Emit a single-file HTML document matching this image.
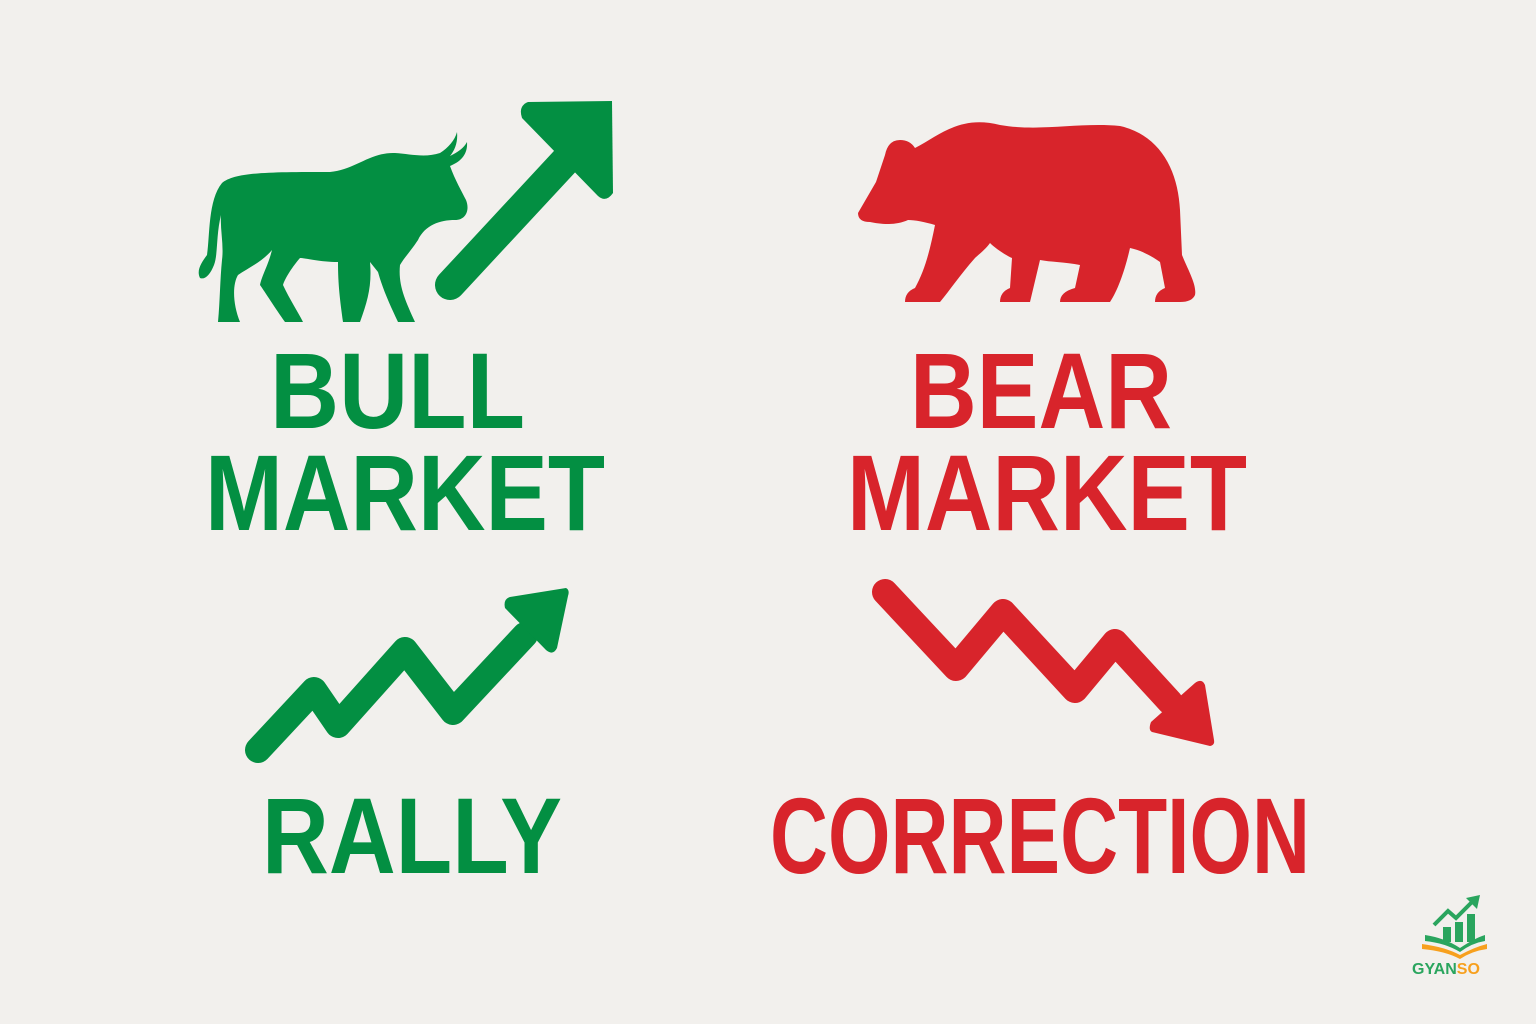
<!DOCTYPE html>
<html><head><meta charset="utf-8"><style>
html,body{margin:0;padding:0;background:#f2f0ed;}
svg{display:block;}
text{font-family:"Liberation Sans",sans-serif;font-weight:bold;}
</style></head><body>
<svg width="1536" height="1024" viewBox="0 0 1536 1024" xmlns="http://www.w3.org/2000/svg">
<rect width="1536" height="1024" fill="#f2f0ed"/>
<g fill="#038f42">
<path d="M222 183 C235 172,270 172,330 172 C355 170,370 152,395 153 C410 154,425 158,440 153 C448 148,455 140,457 132 C458 142,455 150,450 156 C458 152,464 148,467 142 C468 155,460 162,450 166 C455 180,462 192,466 200 C470 210,466 220,455 220 C440 220,425 225,418 240 C410 252,404 258,400 265 C398 285,405 300,415 322 L398 322 C390 305,383 290,378 272 L370 262 C372 285,368 300,360 322 L343 322 C340 300,338 285,338 262 C320 262,305 258,300 258 C293 266,285 278,283 285 C290 300,298 312,303 322 L285 322 C275 308,265 292,260 285 C262 275,268 266,272 250 C262 262,248 268,238 275 C232 285,233 305,240 322 L218 322 C220 300,220 280,222 260 C224 245,220 230,221 215 C216 235,218 255,214 265 C210 275,205 280,200 278 C196 270,202 262,207 255 C210 235,208 200,222 183 Z"/>
</g>
<g>
<line x1="450" y1="285" x2="580" y2="145" stroke="#038f42" stroke-width="30" stroke-linecap="round"/>
<path d="M528 102 L612 101 L613 193 Q606 203 598 196 L522 118 Q518 106 528 102 Z" fill="#038f42"/>
</g>
<g fill="#d8242b">
<path d="M858 213 L876 182 L885 155 Q888 140 900 140 Q910 140 915 148 C940 135,960 115,1000 125 C1040 132,1080 122,1120 126 C1160 135,1178 170,1180 210 L1182 255 C1188 270,1197 285,1195 295 Q1192 302,1180 302 L1155 302 Q1155 292,1165 288 L1160 262 C1150 255,1140 250,1130 248 C1125 270,1118 290,1110 302 L1060 302 Q1060 292,1075 288 L1080 265 C1065 262,1050 262,1040 260 L1030 302 L1000 302 Q1000 292,1010 288 L1012 258 C1005 255,995 248,990 243 C985 250,978 255,975 258 C960 275,950 290,940 302 L905 302 Q905 292,915 288 C925 270,930 250,935 225 C925 222,915 220,908 220 C895 226,880 224,870 222 Q858 222,858 213 Z"/>
</g>
<text x="270" y="428" font-size="108" fill="#038f42" textLength="255" lengthAdjust="spacingAndGlyphs">BULL</text>
<text x="205" y="530" font-size="108" fill="#038f42" textLength="400" lengthAdjust="spacingAndGlyphs">MARKET</text>
<text x="910" y="428" font-size="108" fill="#d8242b" textLength="262" lengthAdjust="spacingAndGlyphs">BEAR</text>
<text x="847" y="530" font-size="108" fill="#d8242b" textLength="400" lengthAdjust="spacingAndGlyphs">MARKET</text>
<g>
<polyline points="258,750 314,690 338,725 405,650 453,712 525,635" fill="none" stroke="#038f42" stroke-width="26" stroke-linecap="round" stroke-linejoin="round"/>
<path d="M510 597 L566 588 Q570 590 568 596 L557 648 Q553 656 546 650 L505 608 Q503 599 510 597 Z" fill="#038f42"/>
</g>
<g>
<polyline points="885,592 956,668 1003,612 1075,690 1115,642 1170,702" fill="none" stroke="#d8242b" stroke-width="26" stroke-linecap="round" stroke-linejoin="round"/>
<path d="M1152 732 L1210 746 Q1215 745 1214 740 L1205 685 Q1202 678 1195 683 L1151 722 Q1148 730 1152 732 Z" fill="#d8242b"/>
</g>
<text x="262" y="873" font-size="108" fill="#038f42" textLength="300" lengthAdjust="spacingAndGlyphs">RALLY</text>
<text x="770" y="873" font-size="108" fill="#d8242b" textLength="540" lengthAdjust="spacingAndGlyphs">CORRECTION</text>
<g>
<rect x="1443" y="927" width="8" height="15" fill="#2aa55e"/>
<rect x="1455" y="922" width="8" height="20" fill="#2aa55e"/>
<rect x="1467" y="914" width="8" height="28" fill="#2aa55e"/>
<polyline points="1434,925 1448,911 1456,918 1472,902" fill="none" stroke="#2aa55e" stroke-width="4"/>
<path d="M1466 898 L1480 895 L1477 909 Z" fill="#2aa55e"/>
<path d="M1425 935 Q1445 938 1460 948 Q1475 938 1485 935 L1485 941 Q1472 943 1460 952 Q1445 943 1425 941 Z" fill="#2aa55e"/>
<path d="M1422 944 Q1445 947 1460 955 Q1475 947 1487 944 L1487 949 Q1472 951 1460 959 Q1445 951 1422 949 Z" fill="#f7a01e"/>
<text x="1412" y="974" font-size="16" fill="#2aa55e">GYAN<tspan fill="#f7a01e">SO</tspan></text>
</g>
</svg>
</body></html>
